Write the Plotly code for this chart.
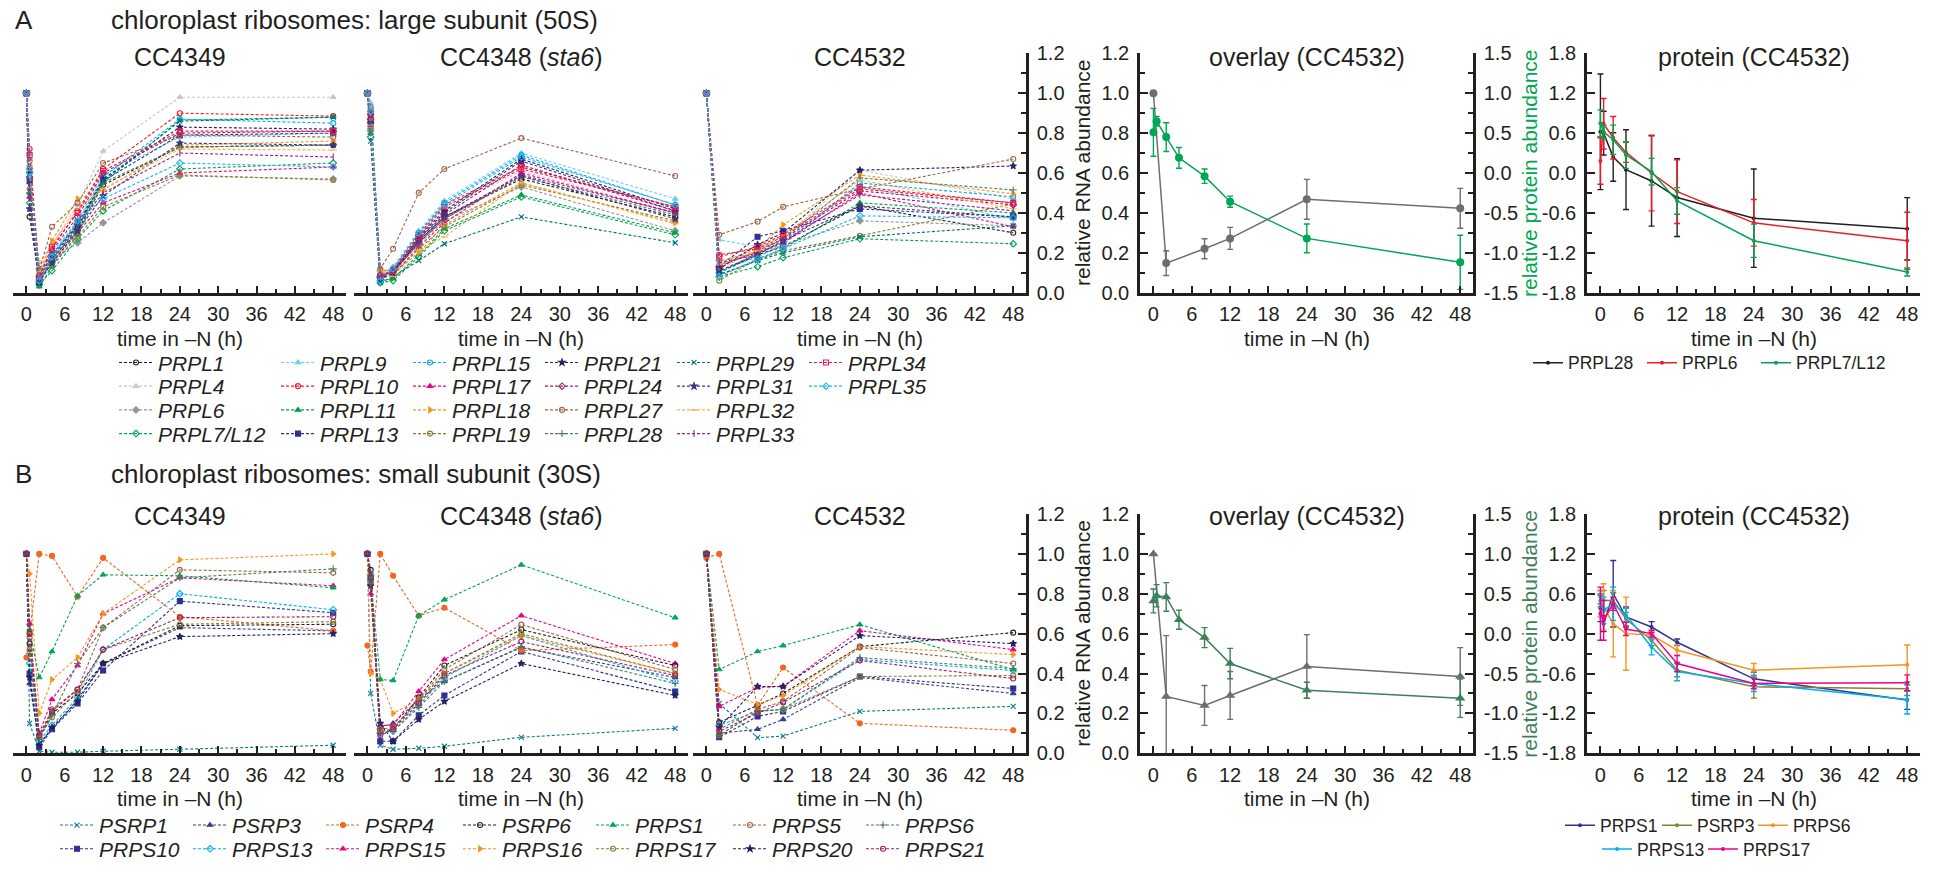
import plotly.graph_objects as go

W, H = 1937, 870
FONT = "Liberation Sans, Arial, Helvetica, sans-serif"
INK = "#231f20"

# ---------------- data ----------------
t_long = [0, 0.5, 2, 4, 8, 12, 24, 48]
t_short = [0, 2, 8, 12, 24, 48]
x_ticks = [0, 6, 12, 18, 24, 30, 36, 42, 48]
rna_ticks = [0.0, 0.2, 0.4, 0.6, 0.8, 1.0, 1.2]
rna_ticktext = ["0.0", "0.2", "0.4", "0.6", "0.8", "1.0", "1.2"]
ovl_ticks = [-1.5, -1.0, -0.5, 0.0, 0.5, 1.0, 1.5]
ovl_ticktext = ["-1.5", "-1.0", "-0.5", "0.0", "0.5", "1.0", "1.5"]
prot_ticks = [-1.8, -1.2, -0.6, 0.0, 0.6, 1.2, 1.8]
prot_ticktext = ["-1.8", "-1.2", "-0.6", "0.0", "0.6", "1.2", "1.8"]

genes_A = ["PRPL1", "PRPL4", "PRPL6", "PRPL7/L12", "PRPL9", "PRPL10", "PRPL11", "PRPL13",
           "PRPL15", "PRPL17", "PRPL18", "PRPL19", "PRPL21", "PRPL24", "PRPL27", "PRPL28",
           "PRPL29", "PRPL31", "PRPL32", "PRPL33", "PRPL34", "PRPL35"]

# CC4349, times t_long
A_cc4349 = [
    [1, 0.38, 0.06, 0.17, 0.31, 0.54, 0.73, 0.74],
    [1, 0.55, 0.15, 0.24, 0.44, 0.71, 0.98, 0.98],
    [1, 0.62, 0.12, 0.16, 0.25, 0.35, 0.585, 0.57],
    [1, 0.45, 0.04, 0.11, 0.27, 0.41, 0.62, 0.65],
    [1, 0.70, 0.09, 0.20, 0.36, 0.59, 0.78, 0.80],
    [1, 0.72, 0.08, 0.22, 0.41, 0.62, 0.90, 0.885],
    [1, 0.50, 0.03, 0.13, 0.29, 0.55, 0.865, 0.88],
    [1, 0.56, 0.05, 0.16, 0.33, 0.56, 0.79, 0.80],
    [1, 0.63, 0.07, 0.19, 0.35, 0.58, 0.87, 0.85],
    [1, 0.48, 0.06, 0.15, 0.30, 0.45, 0.60, 0.63],
    [1, 0.67, 0.10, 0.26, 0.47, 0.515, 0.74, 0.76],
    [1, 0.52, 0.07, 0.14, 0.28, 0.43, 0.59, 0.565],
    [1, 0.60, 0.06, 0.18, 0.34, 0.57, 0.83, 0.82],
    [1, 0.58, 0.08, 0.21, 0.38, 0.60, 0.80, 0.81],
    [1, 0.66, 0.11, 0.33, 0.45, 0.65, 0.79, 0.78],
    [1, 0.50, 0.05, 0.17, 0.32, 0.55, 0.73, 0.74],
    [1, 0.57, 0.06, 0.18, 0.33, 0.56, 0.86, 0.88],
    [1, 0.42, 0.05, 0.15, 0.31, 0.485, 0.75, 0.74],
    [1, 0.64, 0.09, 0.24, 0.42, 0.52, 0.72, 0.715],
    [1, 0.53, 0.07, 0.19, 0.34, 0.50, 0.70, 0.68],
    [1, 0.69, 0.08, 0.23, 0.40, 0.61, 0.81, 0.81],
    [1, 0.60, 0.06, 0.18, 0.36, 0.47, 0.65, 0.63],
]
# CC4348 (sta6), times t_long
A_cc4348 = [
    [1, 0.85, 0.08, 0.10, 0.26, 0.38, 0.57, 0.38],
    [1, 0.90, 0.10, 0.12, 0.29, 0.42, 0.61, 0.40],
    [1, 0.82, 0.11, 0.11, 0.24, 0.36, 0.53, 0.31],
    [1, 0.78, 0.05, 0.06, 0.18, 0.31, 0.48, 0.29],
    [1, 0.95, 0.09, 0.13, 0.31, 0.46, 0.70, 0.47],
    [1, 0.88, 0.08, 0.12, 0.29, 0.44, 0.63, 0.43],
    [1, 0.80, 0.06, 0.07, 0.19, 0.32, 0.49, 0.30],
    [1, 0.86, 0.07, 0.11, 0.27, 0.40, 0.66, 0.41],
    [1, 0.92, 0.06, 0.12, 0.30, 0.45, 0.69, 0.44],
    [1, 0.84, 0.07, 0.09, 0.23, 0.35, 0.60, 0.40],
    [1, 0.87, 0.12, 0.10, 0.20, 0.34, 0.55, 0.35],
    [1, 0.83, 0.09, 0.09, 0.22, 0.33, 0.54, 0.36],
    [1, 0.89, 0.07, 0.10, 0.28, 0.41, 0.67, 0.42],
    [1, 0.87, 0.08, 0.11, 0.27, 0.39, 0.64, 0.41],
    [1, 0.93, 0.12, 0.22, 0.50, 0.62, 0.775, 0.585],
    [1, 0.81, 0.08, 0.10, 0.25, 0.37, 0.58, 0.39],
    [1, 0.76, 0.05, 0.08, 0.16, 0.245, 0.38, 0.25],
    [1, 0.85, 0.07, 0.10, 0.26, 0.38, 0.585, 0.37],
    [1, 0.84, 0.11, 0.08, 0.21, 0.28, 0.55, 0.345],
    [1, 0.86, 0.09, 0.10, 0.25, 0.37, 0.59, 0.40],
    [1, 0.90, 0.08, 0.11, 0.28, 0.43, 0.62, 0.43],
    [1, 0.91, 0.06, 0.12, 0.30, 0.44, 0.68, 0.44],
]
# CC4532, times t_short
A_cc4532 = [
    [1, 0.10, 0.19, 0.23, 0.435, 0.30],
    [1, 0.12, 0.21, 0.27, 0.615, 0.47],
    [1, 0.16, 0.20, 0.24, 0.36, 0.335],
    [1, 0.08, 0.13, 0.175, 0.27, 0.245],
    [1, 0.265, 0.23, 0.26, 0.535, 0.37],
    [1, 0.19, 0.22, 0.28, 0.52, 0.45],
    [1, 0.09, 0.16, 0.22, 0.45, 0.40],
    [1, 0.13, 0.28, 0.31, 0.42, 0.38],
    [1, 0.11, 0.18, 0.24, 0.55, 0.48],
    [1, 0.14, 0.20, 0.25, 0.50, 0.33],
    [1, 0.15, 0.22, 0.34, 0.59, 0.495],
    [1, 0.06, 0.17, 0.21, 0.285, 0.445],
    [1, 0.12, 0.24, 0.30, 0.614, 0.635],
    [1, 0.13, 0.21, 0.27, 0.51, 0.44],
    [1, 0.29, 0.356, 0.43, 0.52, 0.67],
    [1, 0.10, 0.20, 0.27, 0.575, 0.515],
    [1, 0.09, 0.16, 0.20, 0.28, 0.335],
    [1, 0.11, 0.19, 0.26, 0.435, 0.38],
    [1, 0.14, 0.21, 0.29, 0.565, 0.42],
    [1, 0.15, 0.19, 0.26, 0.49, 0.41],
    [1, 0.18, 0.23, 0.29, 0.53, 0.45],
    [1, 0.08, 0.17, 0.22, 0.385, 0.375],
]

genes_B = ["PSRP1", "PRPS10", "PSRP3", "PRPS13", "PSRP4", "PRPS15", "PSRP6",
           "PRPS16", "PRPS1", "PRPS17", "PRPS5", "PRPS20", "PRPS6", "PRPS21"]
B_cc4349 = [
    [1, 0.15, 0.01, 0.005, 0.005, 0.01, 0.02, 0.04],
    [1, 0.40, 0.03, 0.12, 0.25, 0.415, 0.763, 0.705],
    [1, 0.35, 0.05, 0.12, 0.27, 0.45, 0.63, 0.614],
    [1, 0.45, 0.06, 0.14, 0.28, 0.52, 0.80, 0.72],
    [0.48, 0.60, 1.0, 0.99, 0.785, 0.98, 0.685, 0.614],
    [1, 0.65, 0.10, 0.27, 0.44, 0.70, 0.88, 0.84],
    [1, 0.55, 0.08, 0.20, 0.30, 0.45, 0.64, 0.647],
    [1, 0.90, 0.20, 0.37, 0.48, 0.70, 0.97, 1.0],
    [1, 0.62, 0.38, 0.51, 0.79, 0.895, 0.89, 0.83],
    [1, 0.52, 0.08, 0.18, 0.31, 0.52, 0.647, 0.66],
    [1, 0.58, 0.09, 0.22, 0.32, 0.63, 0.92, 0.905],
    [1, 0.38, 0.04, 0.13, 0.26, 0.45, 0.585, 0.60],
    [1, 0.50, 0.07, 0.19, 0.45, 0.63, 0.88, 0.925],
    [1, 0.60, 0.09, 0.21, 0.32, 0.52, 0.68, 0.685],
]
B_cc4348 = [
    [1, 0.30, 0.04, 0.02, 0.025, 0.035, 0.08, 0.125],
    [1, 0.87, 0.06, 0.06, 0.19, 0.29, 0.51, 0.31],
    [1, 0.90, 0.13, 0.15, 0.27, 0.36, 0.53, 0.38],
    [1, 0.89, 0.10, 0.11, 0.24, 0.38, 0.59, 0.36],
    [0.54, 0.41, 1.0, 0.89, 0.69, 0.73, 0.515, 0.545],
    [1, 0.80, 0.14, 0.14, 0.31, 0.47, 0.69, 0.45],
    [1, 0.92, 0.11, 0.12, 0.28, 0.44, 0.62, 0.44],
    [1, 0.40, 0.37, 0.20, 0.27, 0.40, 0.59, 0.40],
    [1, 0.88, 0.37, 0.365, 0.69, 0.77, 0.945, 0.68],
    [1, 0.86, 0.12, 0.13, 0.26, 0.40, 0.60, 0.40],
    [1, 0.90, 0.11, 0.12, 0.27, 0.42, 0.645, 0.42],
    [1, 0.84, 0.15, 0.06, 0.17, 0.26, 0.45, 0.29],
    [1, 0.85, 0.10, 0.11, 0.23, 0.36, 0.535, 0.35],
    [1, 0.88, 0.09, 0.12, 0.25, 0.39, 0.56, 0.39],
]
B_cc4532 = [
    [1, 0.25, 0.078, 0.086, 0.21, 0.235],
    [1, 0.08, 0.185, 0.21, 0.385, 0.325],
    [1, 0.10, 0.12, 0.17, 0.38, 0.30],
    [1, 0.14, 0.21, 0.22, 0.47, 0.415],
    [0.98, 1.0, 0.24, 0.43, 0.15, 0.115],
    [1, 0.235, 0.33, 0.335, 0.615, 0.52],
    [1, 0.155, 0.24, 0.30, 0.535, 0.605],
    [1, 0.32, 0.245, 0.29, 0.535, 0.495],
    [1, 0.42, 0.51, 0.54, 0.645, 0.42],
    [1, 0.09, 0.21, 0.22, 0.385, 0.39],
    [1, 0.12, 0.22, 0.26, 0.53, 0.45],
    [1, 0.13, 0.335, 0.335, 0.59, 0.55],
    [1, 0.09, 0.21, 0.22, 0.48, 0.425],
    [1, 0.11, 0.20, 0.255, 0.465, 0.375],
]

# overlay (CC4532): mean RNA (left axis) and mean protein (right axis)
ovA_rna = [1.0, 0.148, 0.22, 0.272, 0.468, 0.423]
ovA_rna_err = [0, 0.062, 0.05, 0.055, 0.10, 0.10]
ovA_prot = [0.51, 0.65, 0.45, 0.19, -0.04, -0.36, -0.82, -1.12]
ovA_prot_err = [0.30, 0.06, 0.18, 0.13, 0.09, 0.07, 0.18, 0.34]
ovB_rna = [1.0, 0.285, 0.24, 0.29, 0.435, 0.385]
ovB_rna_err = [0, 0.305, 0.10, 0.12, 0.16, 0.145]
ovB_prot = [0.41, 0.475, 0.46, 0.175, -0.05, -0.375, -0.71, -0.81]
ovB_prot_err = [0.15, 0.14, 0.18, 0.12, 0.125, 0.19, 0.10, 0.24]

# protein (CC4532)
protA_names = ["PRPL28", "PRPL6", "PRPL7/L12"]
protA_vals = [
    [0.62, 0.60, 0.24, 0.05, -0.12, -0.37, -0.68, -0.84],
    [0.18, 0.74, 0.53, 0.31, 0.00, -0.28, -0.75, -1.02],
    [0.75, 0.62, 0.50, 0.27, 0.02, -0.42, -1.02, -1.49],
]
protA_err = [
    [0.87, 0.33, 0.365, 0.60, 0.68, 0.585, 0.74, 0.47],
    [0.35, 0.38, 0.32, 0.15, 0.57, 0.48, 0.35, 0.43],
    [0.20, 0.10, 0.22, 0.20, 0.20, 0.20, 0.25, 0.06],
]
protB_names = ["PRPS1", "PSRP3", "PRPS6", "PRPS13", "PRPS17"]
protB_vals = [
    [0.38, 0.15, 0.60, 0.25, 0.10, -0.13, -0.68, -1.00],
    [0.55, 0.50, 0.50, 0.22, -0.10, -0.55, -0.80, -0.83],
    [0.45, 0.40, 0.15, 0.00, -0.02, -0.25, -0.55, -0.47],
    [0.50, 0.35, 0.45, 0.28, -0.20, -0.57, -0.75, -0.99],
    [0.30, 0.20, 0.45, 0.07, 0.00, -0.45, -0.75, -0.74],
]
protB_err = [
    [0.20, 0.12, 0.50, 0.15, 0.08, 0.05, 0.10, 0.14],
    [0.10, 0.15, 0.12, 0.10, 0.08, 0.10, 0.17, 0.10],
    [0.20, 0.35, 0.50, 0.55, 0.05, 0.08, 0.10, 0.30],
    [0.10, 0.20, 0.25, 0.10, 0.12, 0.14, 0.12, 0.22],
    [0.40, 0.30, 0.10, 0.10, 0.05, 0.12, 0.08, 0.12],
]

# ---------------- styles ----------------
colors_A = ["#231f20", "#c7c8ca", "#939598", "#00a651", "#6dcff6", "#ed1c24", "#00a14b", "#2e3192",
            "#00aeef", "#ec008c", "#f7941d", "#8c7d32", "#262262", "#9e1f63", "#a0644b", "#4e7d5b",
            "#00727a", "#39397a", "#fbb040", "#92278f", "#ed145b", "#1cb5f0"]
symbols_A = ["circle-open", "triangle-up", "diamond", "diamond-open", "triangle-up", "circle-open",
             "triangle-up", "square", "circle-open", "triangle-up", "triangle-right", "circle-open",
             "star", "diamond-open", "circle-open", "cross-thin-open", "x-thin-open", "star",
             "line-ew-open", "line-ns-open", "square-open", "diamond-open"]
colors_B = ["#0e7c86", "#2e3192", "#3b3d8f", "#00aeef", "#f26522", "#ec008c", "#231f20",
            "#f7941d", "#00a651", "#8c7d32", "#a0644b", "#262262", "#4e7d5b", "#9e1f63"]
symbols_B = ["x-thin-open", "square", "triangle-up", "diamond-open", "circle", "triangle-up",
             "circle-open", "triangle-right", "triangle-up", "circle-open", "circle-open", "star",
             "cross-thin-open", "circle-open"]
protA_colors = ["#231f20", "#ed1c24", "#00a651"]
protB_colors = ["#2e3192", "#8c7d32", "#f7941d", "#00aeef", "#ec008c"]


def X(px):
    return px / W


def Y(py):
    return 1 - py / H


panels_x = [(13, 346), (354, 688), (693, 1026), (1140, 1473), (1587, 1920)]
rows_y = [(54, 296), (520, 762)]

fig = go.Figure()
layout = dict(width=W, height=H, autosize=False, margin=dict(l=0, r=0, t=0, b=0, pad=0),
              paper_bgcolor="white", plot_bgcolor="rgba(0,0,0,0)", template="none",
              font=dict(family=FONT, color=INK, size=20), hovermode=False)

tickfont = dict(size=20, color=INK, family=FONT)


def xaxis_def(p, r, anchor):
    return dict(domain=[X(panels_x[p][0]), X(panels_x[p][1])], anchor=anchor,
                range=[-2.1, 50], showline=True, linewidth=2.5, linecolor=INK,
                ticks="inside", ticklen=7, tickwidth=2, tickcolor=INK,
                tickmode="array", tickvals=x_ticks, ticktext=[str(v) for v in x_ticks],
                tickfont=tickfont, ticklabelstandoff=2,
                minor=dict(tickmode="linear", tick0=0, dtick=3, ticks="inside", ticklen=4,
                           tickwidth=1.5, tickcolor=INK),
                showgrid=False, zeroline=False, fixedrange=True)


def yaxis_def(r, anchor, rng, tv, tt, mdt, side="left", visible=True, overlaying=None):
    d = dict(domain=[Y(rows_y[r][1]), Y(rows_y[r][0])], anchor=anchor, range=rng,
             visible=visible, side=side, showline=True, linewidth=2.5, linecolor=INK,
             ticks="inside", ticklen=8, tickwidth=2, tickcolor=INK,
             tickmode="array", tickvals=tv, ticktext=tt, tickfont=tickfont,
             ticklabelstandoff=4,
             minor=dict(tickmode="linear", tick0=rng[0], dtick=mdt, ticks="inside", ticklen=5,
                        tickwidth=2, tickcolor=INK),
             showgrid=False, zeroline=False, fixedrange=True)
    if overlaying:
        d["overlaying"] = overlaying
    return d


# axis ids: row A x1..x5, y1..y5 (+y11 right overlay); row B x6..x10, y6..y10 (+y12)
for r in range(2):
    base = 1 + 5 * r
    for p in range(5):
        xi = base + p
        layout["xaxis%d" % xi] = xaxis_def(p, r, "y%d" % xi)
    layout["yaxis%d" % base] = yaxis_def(r, "x%d" % base, [0, 1.2], rna_ticks, rna_ticktext, 0.1, visible=False)
    layout["yaxis%d" % (base + 1)] = yaxis_def(r, "x%d" % (base + 1), [0, 1.2], rna_ticks, rna_ticktext, 0.1, visible=False)
    layout["yaxis%d" % (base + 2)] = yaxis_def(r, "x%d" % (base + 2), [0, 1.2], rna_ticks, rna_ticktext, 0.1, side="right")
    layout["yaxis%d" % (base + 3)] = yaxis_def(r, "x%d" % (base + 3), [0, 1.2], rna_ticks, rna_ticktext, 0.1)
    layout["yaxis%d" % (11 + r)] = yaxis_def(r, "x%d" % (base + 3), [-1.5, 1.5], ovl_ticks, ovl_ticktext, 0.25,
                                            side="right", overlaying="y%d" % (base + 3))
    layout["yaxis%d" % (base + 4)] = yaxis_def(r, "x%d" % (base + 4), [-1.8, 1.8], prot_ticks, prot_ticktext, 0.3)

# ---------------- legends ----------------
legA_rows = ["legend", "legend2", "legend3", "legend4"]
legB_rows = ["legend5", "legend6"]
legA_y = [367, 391, 415, 439]
legB_y = [835, 859]
legA_widths = [113, 83, 83, 83, 83, 83]
legB_widths = [84, 84, 88, 84, 88, 84, 84]


def leg_def(xpx, ypx, size, italic, itemwidth):
    return dict(orientation="h", x=X(xpx), y=Y(ypx), xanchor="left", yanchor="middle",
                bgcolor="rgba(0,0,0,0)", borderwidth=0, itemwidth=itemwidth,
                font=dict(family=FONT, size=size, color=INK, style="italic" if italic else "normal"),
                tracegroupgap=0, itemclick=False, itemdoubleclick=False, traceorder="normal")


for i, nm in enumerate(legA_rows):
    layout[nm] = leg_def(114, legA_y[i], 21, True, 34)
for i, nm in enumerate(legB_rows):
    layout[nm] = leg_def(55, legB_y[i], 21, True, 34)
layout["legend7"] = leg_def(1528, 367, 17.5, False, 30)
layout["legend8"] = leg_def(1560, 835, 17.5, False, 30)
layout["legend9"] = leg_def(1597, 859, 17.5, False, 30)

fig.update_layout(**layout)


def gene_trace(t, y, name, color, symbol, xa, ya, show, legend, lw):
    return go.Scatter(x=t, y=y, xaxis=xa, yaxis=ya, mode="lines+markers", name=name,
                      line=dict(color=color, width=1.1, dash="3px,2px"),
                      marker=dict(symbol=symbol, size=5, color=color, line=dict(width=1.1, color=color)),
                      showlegend=show, legend=legend, legendwidth=lw, cliponaxis=False)


# row A gene panels
for i, g in enumerate(genes_A):
    col, row = i // 4, i % 4
    fig.add_trace(gene_trace(t_long, A_cc4349[i], g, colors_A[i], symbols_A[i], "x1", "y1", True,
                             legA_rows[row], legA_widths[col]))
for i, g in enumerate(genes_A):
    fig.add_trace(gene_trace(t_long, A_cc4348[i], g, colors_A[i], symbols_A[i], "x2", "y2", False, "legend", 80))
for i, g in enumerate(genes_A):
    fig.add_trace(gene_trace(t_short, A_cc4532[i], g, colors_A[i], symbols_A[i], "x3", "y3", False, "legend", 80))

# row B gene panels
for i, g in enumerate(genes_B):
    col, row = i // 2, i % 2
    fig.add_trace(gene_trace(t_long, B_cc4349[i], g, colors_B[i], symbols_B[i], "x6", "y6", True,
                             legB_rows[row], legB_widths[col]))
for i, g in enumerate(genes_B):
    fig.add_trace(gene_trace(t_long, B_cc4348[i], g, colors_B[i], symbols_B[i], "x7", "y7", False, "legend5", 80))
for i, g in enumerate(genes_B):
    fig.add_trace(gene_trace(t_short, B_cc4532[i], g, colors_B[i], symbols_B[i], "x8", "y8", False, "legend5", 80))


def err_trace(t, y, e, color, symbol, size, xa, ya, name="", show=False, legend="legend", lw=None, width=1.5):
    return go.Scatter(x=t, y=y, xaxis=xa, yaxis=ya, mode="lines+markers", name=name,
                      line=dict(color=color, width=width),
                      marker=dict(symbol=symbol, size=size, color=color),
                      error_y=dict(type="data", array=e, color=color, thickness=1.4, width=3),
                      showlegend=show, legend=legend, legendwidth=lw, cliponaxis=False)


# overlays
fig.add_trace(err_trace(t_short, ovA_rna, ovA_rna_err, "#6d6e71", "circle", 8, "x4", "y4"))
fig.add_trace(err_trace(t_long, ovA_prot, ovA_prot_err, "#00a651", "circle", 8, "x4", "y11"))
fig.add_trace(err_trace(t_short, ovB_rna, ovB_rna_err, "#6d6e71", "triangle-up", 9, "x9", "y9"))
fig.add_trace(err_trace(t_long, ovB_prot, ovB_prot_err, "#3f7f5a", "triangle-up", 9, "x9", "y12"))

# protein panels
protA_lw = [69, 69, 100]
for i, nm in enumerate(protA_names):
    fig.add_trace(err_trace(t_long, protA_vals[i], protA_err[i], protA_colors[i], "circle", 4, "x5", "y5",
                            name=nm, show=True, legend="legend7", lw=protA_lw[i]))
protB_leg = ["legend8", "legend8", "legend8", "legend9", "legend9"]
protB_lw = [52, 51, 75, 61, 75]
for i, nm in enumerate(protB_names):
    fig.add_trace(err_trace(t_long, protB_vals[i], protB_err[i], protB_colors[i], "circle", 4, "x10", "y10",
                            name=nm, show=True, legend=protB_leg[i], lw=protB_lw[i]))

# ---------------- text ----------------
ann = []


def txt(s, xpx, ypx, size, xanchor="center", color=INK, angle=0):
    ann.append(dict(text=s, x=X(xpx), y=Y(ypx), xref="paper", yref="paper", xanchor=xanchor,
                    yanchor="middle", showarrow=False, textangle=angle,
                    font=dict(family=FONT, size=size, color=color)))


sub_titles = ["CC4349", "CC4348 (<i>sta6</i>)", "CC4532", "overlay (CC4532)", "protein (CC4532)"]
row_title_y = [20, 480]
row_sub_y = [58, 522]
row_xlab_y = [342, 808]
txt("A", 13, row_title_y[0], 26, "left")
txt("chloroplast ribosomes: large subunit (50S)", 109, row_title_y[0], 26, "left")
txt("B", 13, row_title_y[1], 26, "left")
txt("chloroplast ribosomes: small subunit (30S)", 109, row_title_y[1], 26, "left")
prot_title_colors = ["#00a651", "#3f7f5a"]
for r in range(2):
    for p in range(5):
        cx = (panels_x[p][0] + panels_x[p][1]) / 2
        txt(sub_titles[p], cx, row_sub_y[r], 25)
        txt("time in \u2013N (h)", cx, row_xlab_y[r], 21)
    cy = (rows_y[r][0] + rows_y[r][1]) / 2
    txt("relative RNA abundance", 1083, cy, 21, angle=-90)
    txt("relative protein abundance", 1530, cy, 21, angle=-90, color=prot_title_colors[r])

fig.update_layout(annotations=ann)
fig.write_html("out.html")
